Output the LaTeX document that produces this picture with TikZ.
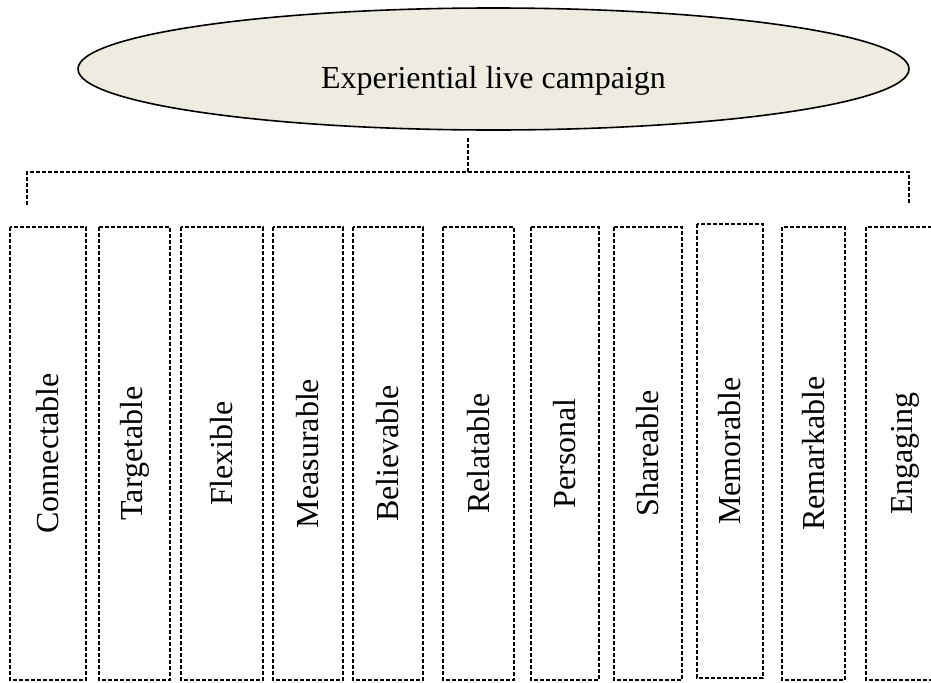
\documentclass[tikz,border=0pt]{standalone}
\usepackage{fontspec}
\setmainfont{Liberation Serif}
\usetikzlibrary{shapes.geometric}
\definecolor{campfill}{HTML}{EEECE1}
\tikzset{
    camp/.style={ellipse, draw, line width=1.2pt, fill=campfill, minimum width=623.25pt, minimum height=91.5pt, text height=34pt, font=\fontsize{24}{28}\selectfont},
    feat/.style={draw, rotate=90, dash pattern=on 3pt off 1.5pt, line width=0.9pt, inner sep=0pt, font=\fontsize{24}{28}\selectfont},
    link/.style={dash pattern=on 3pt off 1.5pt, line width=0.9pt}
}
\begin{document}
\begin{tikzpicture}[x=0.75pt, y=-0.75pt]
    % Page frame
    \useasboundingbox (0,0) rectangle (931,682);
    % Draw the campaign ellipse
    \node[camp] (campaign) at (493.5,69) {Experiential live campaign};
    % Draw the bracket
    \coordinate (stem) at (468,138);
    \coordinate (bar) at (468,172);
    \coordinate (barL) at (27,172);
    \coordinate (barR) at (909,172);
    \coordinate (dropL) at (27,205);
    \coordinate (dropR) at (909,205);
    \draw[link] (stem) -- (bar);
    \draw[link] (dropL) -- (barL) -- (barR) -- (dropR);
    % Draw the feature boxes
    \node[feat, minimum width=339.75pt, minimum height=57pt] (connectable) at (48,453.5) {Connectable};
    \node[feat, minimum width=339.75pt, minimum height=53.25pt] (targetable) at (134.5,453.5) {Targetable};
    \node[feat, minimum width=339.75pt, minimum height=61.5pt] (flexible) at (222,453.5) {Flexible};
    \node[feat, minimum width=339.75pt, minimum height=52.5pt] (measurable) at (308,453.5) {Measurable};
    \node[feat, minimum width=339.75pt, minimum height=52.5pt] (believable) at (388,453.5) {Believable};
    \node[feat, minimum width=339.75pt, minimum height=53.25pt] (relatable) at (478.5,453.5) {Relatable};
    \node[feat, minimum width=339.75pt, minimum height=51pt] (personal) at (565,453.5) {Personal};
    \node[feat, minimum width=339.75pt, minimum height=51pt] (shareable) at (648,453.5) {Shareable};
    \node[feat, minimum width=340.5pt, minimum height=49.5pt] (memorable) at (730,451) {Memorable};
    \node[feat, minimum width=339.75pt, minimum height=47.25pt] (remarkable) at (813.5,453.5) {Remarkable};
    \node[feat, minimum width=339.75pt, minimum height=58.5pt] (engaging) at (905,453.5) {Engaging};
\end{tikzpicture}
\end{document}
